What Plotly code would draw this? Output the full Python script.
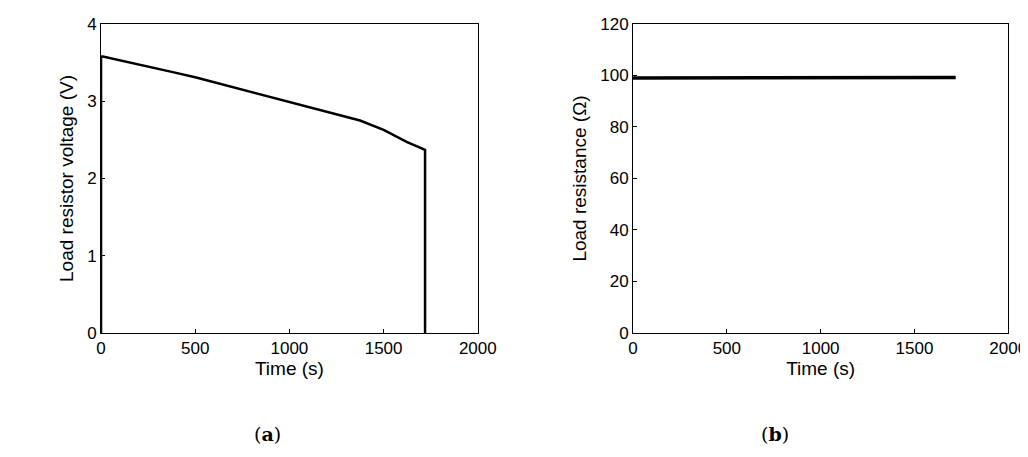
import plotly.graph_objects as go

t_a = [0, 0, 10, 125, 250, 375, 500, 625, 750, 875, 1000, 1125, 1250, 1375, 1500, 1625, 1720, 1720]
v_a = [0, 3.58, 3.58, 3.52, 3.45, 3.38, 3.31, 3.23, 3.15, 3.07, 2.99, 2.91, 2.83, 2.75, 2.63, 2.47, 2.37, 0]
t_b = [0, 250, 500, 750, 1000, 1250, 1500, 1720]
r_b = [99, 99, 99.2, 99, 99.3, 99.2, 99.1, 99.2]

fig = go.Figure()
fig.add_trace(go.Scatter(x=t_a, y=v_a, mode="lines", line=dict(color="black", width=2.5), xaxis="x", yaxis="y"))
fig.add_trace(go.Scatter(x=t_b, y=r_b, mode="lines", line=dict(color="black", width=3.5), xaxis="x2", yaxis="y2"))

ax = dict(showline=True, linecolor="black", linewidth=1, mirror=True, showgrid=False, zeroline=False,
          automargin=False, ticks="inside", ticklen=4, tickcolor="black", tickfont=dict(size=17, color="black"))
fig.update_layout(
    width=1028, height=457, showlegend=False, plot_bgcolor="white", paper_bgcolor="white",
    margin=dict(l=0, r=0, t=0, b=0),
    font=dict(family="Liberation Sans", color="black"),
    xaxis=dict(ax, domain=[0.0905, 0.457], range=[0, 2000], dtick=500, title=dict(text="Time (s)", font=dict(size=19), standoff=4)),
    yaxis=dict(ax, domain=[0.289, 0.965], range=[0, 4], dtick=1, title=dict(text="Load resistor voltage (V)", font=dict(size=19), standoff=8)),
    xaxis2=dict(ax, domain=[0.608, 0.973], range=[0, 2000], dtick=500, anchor="y2", title=dict(text="Time (s)", font=dict(size=19), standoff=4)),
    yaxis2=dict(ax, domain=[0.289, 0.965], range=[0, 120], dtick=20, anchor="x2", title=dict(text="Load resistance (Ω)", font=dict(size=19), standoff=8)),
    annotations=[
        dict(text="(<b>a</b>)", x=0.237, y=0.04, xref="paper", yref="paper", showarrow=False, font=dict(family="DejaVu Serif", size=19)),
        dict(text="(<b>b</b>)", x=0.762, y=0.04, xref="paper", yref="paper", showarrow=False, font=dict(family="DejaVu Serif", size=19)),
    ],
)
fig.write_html("out.html")
